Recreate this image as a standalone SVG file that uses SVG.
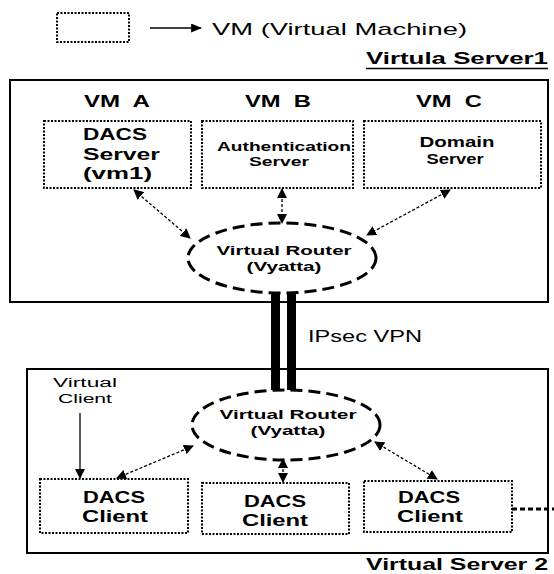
<svg xmlns="http://www.w3.org/2000/svg" width="554" height="574" viewBox="0 0 554 574">
<defs>
<marker id="ah" viewBox="0 0 10 10" refX="9" refY="5" markerWidth="10" markerHeight="10" markerUnits="userSpaceOnUse" orient="auto-start-reverse">
<path d="M0,0 L10,5 L0,10 Z" fill="#000"/>
</marker>
<marker id="ahs" viewBox="0 0 12 10" refX="11" refY="5" markerWidth="12" markerHeight="9" markerUnits="userSpaceOnUse" orient="auto">
<path d="M0,0 L12,5 L0,10 Z" fill="#000"/>
</marker>
<style>
text{font-family:"Liberation Sans",Arial,sans-serif;fill:#000;white-space:pre}
.b{font-weight:bold}
.vm{fill:none;stroke:#000;stroke-width:2;stroke-dasharray:2 1.5}
.srv{fill:none;stroke:#000;stroke-width:2}
.rt{fill:none;stroke:#000;stroke-width:3;stroke-dasharray:12 6}
.dl{fill:none;stroke:#000;stroke-width:1.3;stroke-dasharray:3 2;marker-start:url(#ah);marker-end:url(#ah)}
</style>
</defs>

<g id="legend">
<rect class="vm" x="57" y="13" width="72" height="29"/>
<line x1="150" y1="28" x2="201" y2="28" stroke="#000" stroke-width="1.3" marker-end="url(#ahs)"/>
<text x="212" y="35" font-size="17" textLength="255" lengthAdjust="spacingAndGlyphs">VM (Virtual Machine)</text>
</g>

<g id="server1">
<text class="b" x="366" y="64" font-size="17" textLength="182" lengthAdjust="spacingAndGlyphs">Virtula Server1</text>
<line x1="366" y1="68.5" x2="548" y2="68.5" stroke="#000" stroke-width="1.3"/>
<rect class="srv" x="10" y="80" width="538" height="222"/>
</g>

<g id="vmA">
<text class="b" x="117" y="107" font-size="17" text-anchor="middle" textLength="66" lengthAdjust="spacingAndGlyphs">VM  A</text>
<rect class="vm" x="44" y="121" width="147" height="67"/>
<text class="b" x="83" y="140" font-size="16" textLength="64" lengthAdjust="spacingAndGlyphs">DACS</text>
<text class="b" x="83" y="160" font-size="16" textLength="77" lengthAdjust="spacingAndGlyphs">Server</text>
<text class="b" x="83" y="179" font-size="16" textLength="69" lengthAdjust="spacingAndGlyphs">(vm1)</text>
</g>

<g id="vmB">
<text class="b" x="278" y="107" font-size="17" text-anchor="middle" textLength="66" lengthAdjust="spacingAndGlyphs">VM  B</text>
<rect class="vm" x="202" y="121" width="151" height="67"/>
<text class="b" x="217" y="151" font-size="12" textLength="134" lengthAdjust="spacingAndGlyphs">Authentication</text>
<text class="b" x="279" y="166" font-size="12" text-anchor="middle" textLength="60" lengthAdjust="spacingAndGlyphs">Server</text>
</g>

<g id="vmC">
<text class="b" x="449" y="107" font-size="17" text-anchor="middle" textLength="66" lengthAdjust="spacingAndGlyphs">VM  C</text>
<rect class="vm" x="364" y="121" width="177" height="67"/>
<text class="b" x="457" y="147" font-size="14" text-anchor="middle" textLength="75" lengthAdjust="spacingAndGlyphs">Domain</text>
<text class="b" x="455" y="164" font-size="14" text-anchor="middle" textLength="57" lengthAdjust="spacingAndGlyphs">Server</text>
</g>

<g id="router1">
<ellipse class="rt" cx="282" cy="258" rx="94" ry="35"/>
<text class="b" x="284" y="255" font-size="13.5" text-anchor="middle" textLength="135" lengthAdjust="spacingAndGlyphs">Virtual Router</text>
<text class="b" x="284" y="271" font-size="13.5" text-anchor="middle" textLength="75" lengthAdjust="spacingAndGlyphs">(Vyatta)</text>
</g>

<g id="vpn">
<rect x="271" y="293" width="9" height="97" fill="#000"/>
<rect x="287" y="293" width="9" height="97" fill="#000"/>
<text x="308" y="342" font-size="17" textLength="114" lengthAdjust="spacingAndGlyphs">IPsec VPN</text>
</g>

<g id="server2">
<rect class="srv" x="27" y="369" width="521" height="184"/>
<text class="b" x="548" y="570" font-size="17" text-anchor="end" textLength="182" lengthAdjust="spacingAndGlyphs">Virtual Server 2</text>
</g>

<g id="vclient">
<text x="85" y="386.5" font-size="12.5" text-anchor="middle" textLength="64" lengthAdjust="spacingAndGlyphs">Virtual</text>
<text x="85" y="402.5" font-size="12.5" text-anchor="middle" textLength="54" lengthAdjust="spacingAndGlyphs">Client</text>
</g>

<g id="router2">
<ellipse class="rt" cx="286" cy="425" rx="94" ry="35"/>
<text class="b" x="288" y="419" font-size="13.5" text-anchor="middle" textLength="137" lengthAdjust="spacingAndGlyphs">Virtual Router</text>
<text class="b" x="288" y="435" font-size="13.5" text-anchor="middle" textLength="75" lengthAdjust="spacingAndGlyphs">(Vyatta)</text>
</g>

<g id="client1">
<rect class="vm" x="40" y="479" width="148" height="54"/>
<text class="b" x="114" y="503" font-size="16" text-anchor="middle" textLength="62" lengthAdjust="spacingAndGlyphs">DACS</text>
<text class="b" x="115" y="522" font-size="16" text-anchor="middle" textLength="66" lengthAdjust="spacingAndGlyphs">Client</text>
</g>

<g id="client2">
<rect class="vm" x="202" y="483" width="147" height="51"/>
<text class="b" x="275" y="507" font-size="16" text-anchor="middle" textLength="62" lengthAdjust="spacingAndGlyphs">DACS</text>
<text class="b" x="275" y="526" font-size="16" text-anchor="middle" textLength="66" lengthAdjust="spacingAndGlyphs">Client</text>
</g>

<g id="client3">
<rect class="vm" x="364" y="481" width="148" height="51"/>
<text class="b" x="429" y="503" font-size="16" text-anchor="middle" textLength="62" lengthAdjust="spacingAndGlyphs">DACS</text>
<text class="b" x="430" y="522" font-size="16" text-anchor="middle" textLength="66" lengthAdjust="spacingAndGlyphs">Client</text>
</g>

<g id="connectors">
<line class="dl" x1="134" y1="190" x2="190" y2="238"/>
<line class="dl" x1="282" y1="189" x2="282" y2="223"/>
<line class="dl" x1="450" y1="190" x2="367" y2="235"/>
<line x1="80" y1="413" x2="80" y2="478" stroke="#000" stroke-width="1.3" marker-end="url(#ah)"/>
<line class="dl" x1="193" y1="446" x2="117" y2="478"/>
<line class="dl" x1="283" y1="459" x2="283" y2="482"/>
<line class="dl" x1="375" y1="442" x2="437" y2="479"/>
<line x1="512" y1="509" x2="554" y2="509" stroke="#000" stroke-width="3" stroke-dasharray="5 3"/>
</g>
</svg>
